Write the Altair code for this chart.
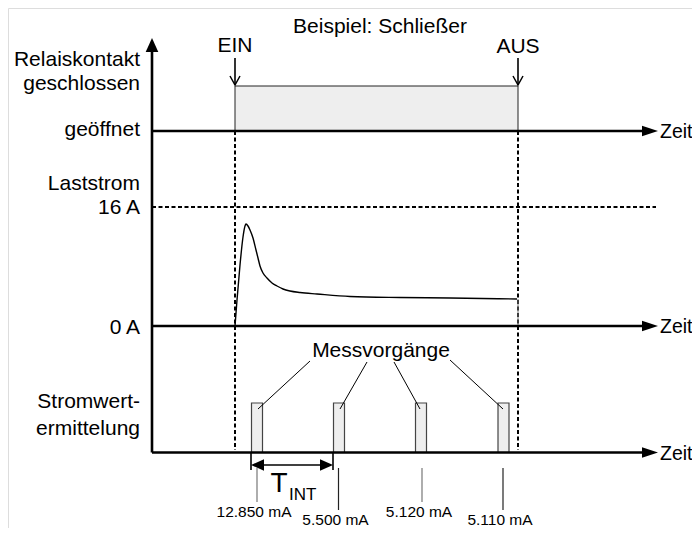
import altair as alt
import pandas as pd

FONT = "Liberation Sans"

# ---- diagram frame (page pixel units) ----
FRAME_X = [8, 692]
FRAME_Y = [8, 528]

# ---- axes ----
AXIS_X = 152
AXIS_TOP_TIP = 38
AXIS_LINE_END = 646
TIME_ARROW_TIP = 658
ROW_BASE = [131, 326, 452.5]          # geöffnet / 0 A / Stromwert baselines

# ---- relay contact (Schließer) ----
T_ON, T_OFF = 235, 518
CLOSED_LEVEL = 86
I16_LEVEL = 207

# ---- load current trace ----
CURVE_T = [235, 237, 240, 243, 245, 246, 248, 250, 253, 256, 258, 260, 263, 267,
           272, 277, 283, 290, 300, 317, 350, 400, 450, 517]
CURVE_Y = [326, 300, 265, 237, 226, 224, 226, 230, 238, 250, 258, 266, 273, 278,
           283, 286, 289, 291, 292.5, 294, 296.5, 297.5, 298, 299]

# ---- sampling (Messvorgänge) ----
SAMPLE_X = [257, 339, 421, 503.5]
SAMPLE_W = 11
SAMPLE_TOP = 403
SAMPLE_LABELS = ["12.850 mA", "5.500 mA", "5.120 mA", "5.110 mA"]
LEADER_FROM_X = [310, 367, 394, 450]
LEADER_FROM_Y = [361, 362, 362, 360]
LEADER_TO_X = [258, 340, 420, 503]
LEADER_TO_Y = [409, 409, 409, 409]
VALUE_LINE_X = [257, 338.5, 422, 503]
VALUE_LINE_END = [502, 510, 502, 510]
VALUE_LINE_COL = ["#777777", "#222222", "#777777", "#222222"]
VALUE_TEXT_Y = [517, 525, 517, 525]
TINT_FROM, TINT_TO, TINT_Y = 251, 333, 465

# ---- labels ----
LEFT_LABELS = ["Relaiskontakt", "geschlossen", "geöffnet", "Laststrom", "16 A",
               "0 A", "Stromwert-", "ermittelung"]
LEFT_LABEL_Y = [65.5, 90, 136, 190, 214, 334, 408, 435]
LEFT_LABEL_X = 140

xs = alt.Scale(domain=FRAME_X, nice=False, zero=False)
ys = alt.Scale(domain=FRAME_Y, nice=False, zero=False, reverse=True)


def X(f="x"):
    return alt.X(f + ":Q", scale=xs, axis=None)


def Y(f="y"):
    return alt.Y(f + ":Q", scale=ys, axis=None)


def segs(rows, color="black", width=1.0, dash=None):
    df = pd.DataFrame(rows, columns=["x", "y", "x2", "y2"])
    kw = dict(color=color, strokeWidth=width)
    if dash:
        kw["strokeDash"] = dash
    return alt.Chart(df).mark_rule(**kw).encode(
        x=X(), y=Y(), x2=alt.X2("x2:Q"), y2=alt.Y2("y2:Q"))


def texts(xs_, ys_, labels, size=21, align="center", color="black"):
    df = pd.DataFrame({"x": xs_, "y": ys_, "t": labels})
    return alt.Chart(df).mark_text(
        align=align, baseline="alphabetic", fontSize=size, font=FONT, color=color
    ).encode(x=X(), y=Y(), text="t:N")


def heads(xs_, ys_, path, size, filled=True):
    df = pd.DataFrame({"x": xs_, "y": ys_})
    kw = dict(shape=path, size=size, opacity=1)
    if filled:
        kw.update(filled=True, fill="black", strokeWidth=0)
    else:
        kw.update(filled=False, stroke="black", strokeWidth=1.5)
    return alt.Chart(df).mark_point(**kw).encode(x=X(), y=Y())


RIGHT = "M0,0L-2,-0.65L-2,0.65Z"
LEFT = "M0,0L2,-0.9L2,0.9Z"
RIGHT_T = "M0,0L-2,-0.9L-2,0.9Z"
UP = "M0,0L-0.9,2L0.9,2Z"
CHEVRON = "M-1,-1.8L0,0L1,-1.8"

layers = []

# relay closed block
relay = pd.DataFrame({"x": [T_ON], "x2": [T_OFF], "y": [CLOSED_LEVEL], "y2": [ROW_BASE[0]]})
layers.append(alt.Chart(relay).mark_rect(fill="#eeeeee", stroke="#222222", strokeWidth=1)
              .encode(x=X(), x2=alt.X2("x2:Q"), y=Y(), y2=alt.Y2("y2:Q")))

# sample rectangles
samp = pd.DataFrame({"x": [v - SAMPLE_W / 2 for v in SAMPLE_X],
                     "x2": [v + SAMPLE_W / 2 for v in SAMPLE_X],
                     "y": [SAMPLE_TOP] * 4, "y2": [ROW_BASE[2]] * 4})
layers.append(alt.Chart(samp).mark_rect(fill="#eeeeee", stroke="#444444", strokeWidth=1.2)
              .encode(x=X(), x2=alt.X2("x2:Q"), y=Y(), y2=alt.Y2("y2:Q")))

# dashed guides
layers.append(segs([[T_ON, ROW_BASE[0], T_ON, 450], [T_OFF, ROW_BASE[0], T_OFF, 450],
                    [AXIS_X, I16_LEVEL, 656, I16_LEVEL]],
                   width=2, dash=[4, 2.5]))

# current drop at switch-off
layers.append(segs([[T_OFF, CURVE_Y[-1], T_OFF, ROW_BASE[1]]], color="#777777", width=1))

# load current curve
curve = pd.DataFrame({"x": CURVE_T, "y": CURVE_Y, "o": list(range(len(CURVE_T)))})
layers.append(alt.Chart(curve).mark_line(color="black", strokeWidth=1.4, interpolate="monotone")
              .encode(x=X(), y=Y(), order="o:Q"))

# axes
layers.append(segs([[AXIS_X, AXIS_TOP_TIP + 10, AXIS_X, ROW_BASE[2]]] +
                   [[AXIS_X, b, AXIS_LINE_END, b] for b in ROW_BASE], width=2.6))
layers.append(heads([TIME_ARROW_TIP] * 3, ROW_BASE, RIGHT, 256))
layers.append(heads([AXIS_X], [AXIS_TOP_TIP], UP, 196))

# EIN / AUS markers
layers.append(segs([[T_ON, 58, T_ON, CLOSED_LEVEL - 1], [T_OFF, 58, T_OFF, CLOSED_LEVEL - 1]],
                   width=1.6))
layers.append(heads([T_ON, T_OFF], [CLOSED_LEVEL - 1, CLOSED_LEVEL - 1], CHEVRON, 100, filled=False))

# leaders
layers.append(segs([[a, b, c, d] for a, b, c, d in
                    zip(LEADER_FROM_X, LEADER_FROM_Y, LEADER_TO_X, LEADER_TO_Y)], width=1))

# value lines
for vx, ve, vc in zip(VALUE_LINE_X, VALUE_LINE_END, VALUE_LINE_COL):
    layers.append(segs([[vx, 468, vx, ve]], color=vc, width=1.2))

# T_INT dimension
layers.append(segs([[TINT_FROM, ROW_BASE[2], TINT_FROM, 470], [TINT_TO, ROW_BASE[2], TINT_TO, 470]],
                   width=1.6))
layers.append(segs([[TINT_FROM + 10, TINT_Y, TINT_TO - 10, TINT_Y]], width=1.6))
layers.append(heads([TINT_FROM], [TINT_Y], LEFT, 169))
layers.append(heads([TINT_TO], [TINT_Y], RIGHT_T, 169))

# texts
layers.append(texts([LEFT_LABEL_X] * len(LEFT_LABELS), LEFT_LABEL_Y, LEFT_LABELS, align="right"))
layers.append(texts([380], [33], ["Beispiel: Schließer"], size=21))
layers.append(texts([T_ON, T_OFF], [52, 53], ["EIN", "AUS"]))
layers.append(texts([660] * 3, [b + 7 for b in ROW_BASE], ["Zeit"] * 3, size=19.5, align="left"))
layers.append(texts([381], [357], ["Messvorgänge"]))
layers.append(texts([279], [492], ["T"], size=28))
layers.append(texts([289], [500], ["INT"], size=17, align="left"))
layers.append(texts([v - 3 for v in VALUE_LINE_X], VALUE_TEXT_Y, SAMPLE_LABELS, size=15.5))

chart = alt.layer(*layers).properties(
    width=FRAME_X[1] - FRAME_X[0], height=FRAME_Y[1] - FRAME_Y[0],
    autosize=alt.AutoSizeParams(type="none"), padding=0,
).configure_view(stroke=None).configure(background="white")

chart.save("out.html", embed_options={"renderer": "svg", "actions": False})
